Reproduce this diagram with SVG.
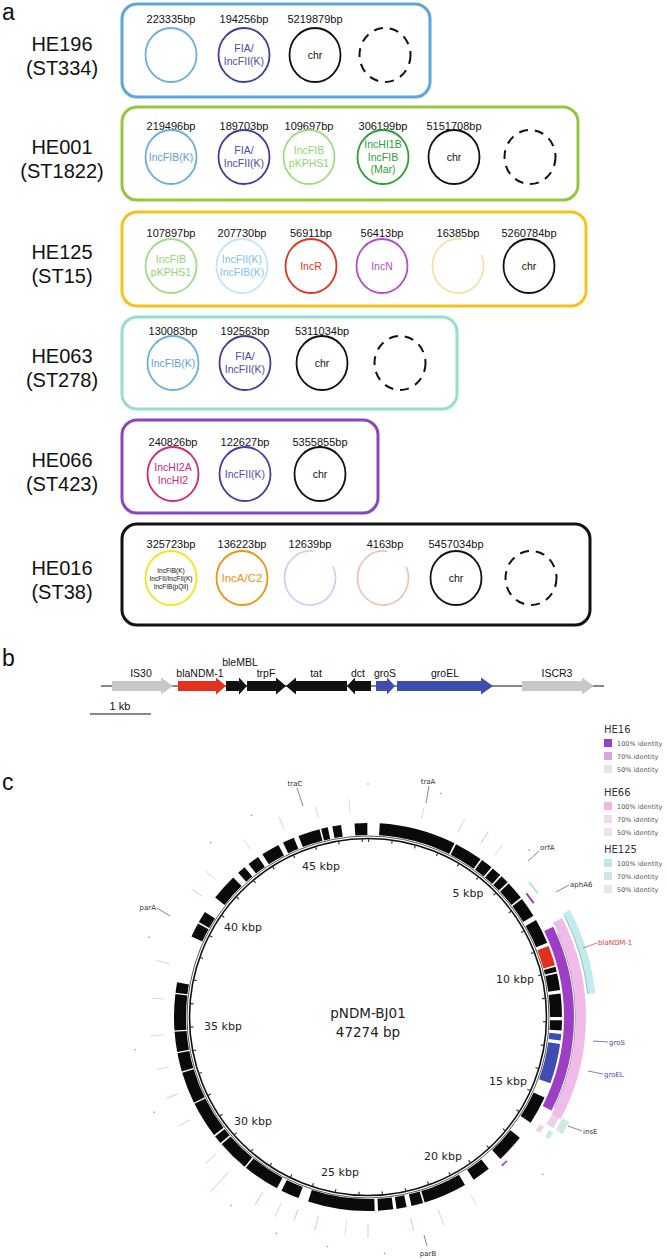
<svg xmlns="http://www.w3.org/2000/svg" width="668" height="1259" viewBox="0 0 668 1259">
<style>
.pl{font-family:"Liberation Sans",Arial,sans-serif;font-size:23px;fill:#111}
.rl{font-family:"Liberation Sans",Arial,sans-serif;font-size:20px;fill:#111;text-anchor:middle}
.bp{font-family:"Liberation Sans",Arial,sans-serif;font-size:11px;fill:#111;text-anchor:middle}
.ct{font-family:"Liberation Sans",Arial,sans-serif;font-size:10.5px;text-anchor:middle}
.sm{font-family:"Liberation Sans",Arial,sans-serif;font-size:6.5px;text-anchor:middle;fill:#111}
.box{fill:none;stroke-width:3}
.pc{fill:none;stroke-width:1.8}
.dash{fill:none;stroke:#111;stroke-width:2;stroke-dasharray:9 7}
.gl{font-family:"Liberation Sans",Arial,sans-serif;font-size:10.5px;text-anchor:middle;fill:#111}
.kb{font-family:"DejaVu Sans",sans-serif;font-size:11px;text-anchor:middle;fill:#222}
.gn{font-family:"DejaVu Sans",sans-serif;font-size:7px;fill:#333}
.lg{font-family:"DejaVu Sans",sans-serif;font-size:6.5px;fill:#555}
.lt{font-family:"DejaVu Sans",sans-serif;font-size:10px;fill:#333}
.ld{stroke:#555;stroke-width:0.7;fill:none}
.gc{stroke:#d2d2d2;stroke-width:0.8}
.gp{stroke:#e2b0e4;stroke-width:0.8}
.dot{fill:#999}
</style>

<text class="pl" x="2" y="20">a</text>
<text class="pl" x="2" y="666">b</text>
<text class="pl" x="2" y="790">c</text>

<!-- Panel a -->
<g id="HE196">
<rect class="box" x="122" y="4" width="308" height="93" rx="15" stroke="#5aa7d8"/>
<text class="rl" x="62" y="51">HE196</text><text class="rl" x="62" y="75">(ST334)</text>
<text class="bp" x="171" y="23">223335bp</text><ellipse class="pc" cx="171" cy="55" rx="25.5" ry="27" stroke="#6ab0df"/>
<text class="bp" x="244" y="23">194256bp</text><ellipse class="pc" cx="244" cy="55" rx="25.5" ry="27" stroke="#3d3f9f"/>
<text class="ct" x="244" y="52.2" fill="#4a4aa6">FIA/</text><text class="ct" x="244" y="64.7" fill="#4a4aa6">IncFII(K)</text>
<text class="bp" x="315" y="23">5219879bp</text><ellipse class="pc" cx="315" cy="55" rx="25.5" ry="27" stroke="#111"/>
<text class="ct" x="315" y="58.5" fill="#111">chr</text>
<ellipse class="dash" cx="385" cy="55" rx="25.5" ry="27"/>
</g>

<g id="HE001">
<rect class="box" x="122" y="107" width="456" height="93" rx="15" stroke="#93c83e"/>
<text class="rl" x="62" y="154">HE001</text><text class="rl" x="62" y="178">(ST1822)</text>
<text class="bp" x="171" y="130">219496bp</text><ellipse class="pc" cx="171" cy="157" rx="25.5" ry="27" stroke="#6ab0df"/>
<text class="ct" x="171" y="160.5" fill="#5b9fd6">IncFIB(K)</text>
<text class="bp" x="244" y="130">189703bp</text><ellipse class="pc" cx="244" cy="157" rx="25.5" ry="27" stroke="#3d3f9f"/>
<text class="ct" x="244" y="154.2" fill="#4a4aa6">FIA/</text><text class="ct" x="244" y="166.7" fill="#4a4aa6">IncFII(K)</text>
<text class="bp" x="309" y="130">109697bp</text><ellipse class="pc" cx="309" cy="157" rx="25.5" ry="27" stroke="#a3dc84"/>
<text class="ct" x="309" y="154.2" fill="#93d470">IncFIB</text><text class="ct" x="309" y="166.7" fill="#93d470">pKPHS1</text>
<text class="bp" x="383" y="130">306199bp</text><ellipse class="pc" cx="383" cy="157" rx="25.5" ry="27" stroke="#2e9e3a"/>
<text class="ct" x="383" y="148" fill="#2e9e3a">IncHI1B</text><text class="ct" x="383" y="160.5" fill="#2e9e3a">IncFIB</text><text class="ct" x="383" y="173" fill="#2e9e3a">(Mar)</text>
<text class="bp" x="454" y="130">5151708bp</text><ellipse class="pc" cx="454" cy="157" rx="25.5" ry="27" stroke="#111"/>
<text class="ct" x="454" y="160.5" fill="#111">chr</text>
<ellipse class="dash" cx="530" cy="157" rx="25.5" ry="27"/>
</g>

<g id="HE125">
<rect class="box" x="122" y="212" width="464" height="94" rx="15" stroke="#f6c21c"/>
<text class="rl" x="62" y="259">HE125</text><text class="rl" x="62" y="283">(ST15)</text>
<text class="bp" x="171" y="237">107897bp</text><ellipse class="pc" cx="171" cy="266" rx="25.5" ry="27" stroke="#a3dc84"/>
<text class="ct" x="171" y="263.2" fill="#93d470">IncFIB</text><text class="ct" x="171" y="275.7" fill="#93d470">pKPHS1</text>
<text class="bp" x="242" y="237">207730bp</text><ellipse class="pc" cx="242" cy="266" rx="25.5" ry="27" stroke="#c4e6f4"/>
<text class="ct" x="242" y="263.2" fill="#7cc4e6">IncFII(K)</text><text class="ct" x="242" y="275.7" fill="#7cc4e6">IncFIB(K)</text>
<text class="bp" x="311" y="237">56911bp</text><ellipse class="pc" cx="311" cy="266" rx="25.5" ry="27" stroke="#e2341e"/>
<text class="ct" x="311" y="269.5" fill="#e2341e">IncR</text>
<text class="bp" x="382" y="237">56413bp</text><ellipse class="pc" cx="382" cy="266" rx="25.5" ry="27" stroke="#b24fc9"/>
<text class="ct" x="382" y="269.5" fill="#b24fc9">IncN</text>
<text class="bp" x="458" y="237">16385bp</text><path class="pc" d="M481.1 254.6 A25.5 27 0 1 1 462.4 239.4" stroke="#f1e3a6"/>
<text class="bp" x="529" y="237">5260784bp</text><ellipse class="pc" cx="529" cy="266" rx="25.5" ry="27" stroke="#111"/>
<text class="ct" x="529" y="269.5" fill="#111">chr</text>
</g>

<g id="HE063">
<rect class="box" x="122" y="317" width="335" height="92" rx="15" stroke="#93e0cc"/>
<text class="rl" x="62" y="363">HE063</text><text class="rl" x="62" y="387">(ST278)</text>
<text class="bp" x="173" y="335">130083bp</text><ellipse class="pc" cx="173" cy="363" rx="25.5" ry="27" stroke="#6ab0df"/>
<text class="ct" x="173" y="366.5" fill="#5b9fd6">IncFIB(K)</text>
<text class="bp" x="245" y="335">192563bp</text><ellipse class="pc" cx="245" cy="363" rx="25.5" ry="27" stroke="#3d3f9f"/>
<text class="ct" x="245" y="360.2" fill="#4a4aa6">FIA/</text><text class="ct" x="245" y="372.7" fill="#4a4aa6">IncFII(K)</text>
<text class="bp" x="322" y="335">5311034bp</text><ellipse class="pc" cx="322" cy="363" rx="25.5" ry="27" stroke="#111"/>
<text class="ct" x="322" y="366.5" fill="#111">chr</text>
<ellipse class="dash" cx="400" cy="363" rx="25.5" ry="27"/>
</g>

<g id="HE066">
<rect class="box" x="122" y="420" width="256" height="93" rx="15" stroke="#8b46be"/>
<text class="rl" x="62" y="467">HE066</text><text class="rl" x="62" y="491">(ST423)</text>
<text class="bp" x="173" y="446">240826bp</text><ellipse class="pc" cx="173" cy="474" rx="25.5" ry="27" stroke="#d4267c"/>
<text class="ct" x="173" y="471.2" fill="#d4267c">IncHI2A</text><text class="ct" x="173" y="483.7" fill="#d4267c">IncHI2</text>
<text class="bp" x="245" y="446">122627bp</text><ellipse class="pc" cx="245" cy="474" rx="25.5" ry="27" stroke="#4b3aa6"/>
<text class="ct" x="245" y="477.5" fill="#5a48b0">IncFII(K)</text>
<text class="bp" x="320" y="446">5355855bp</text><ellipse class="pc" cx="320" cy="474" rx="25.5" ry="27" stroke="#111"/>
<text class="ct" x="320" y="477.5" fill="#111">chr</text>
</g>

<g id="HE016">
<rect class="box" x="122" y="524" width="468" height="101" rx="15" stroke="#111"/>
<text class="rl" x="62" y="575">HE016</text><text class="rl" x="62" y="599">(ST38)</text>
<text class="bp" x="171" y="548">325723bp</text><ellipse class="pc" cx="171" cy="578" rx="25.5" ry="27" stroke="#f4e41c"/>
<text class="sm" x="171" y="572.5">IncFIB(K)</text><text class="sm" x="171" y="580.5">IncFII/IncFII(K)</text><text class="sm" x="171" y="588.5">IncFIB(pQil)</text>
<text class="bp" x="242" y="548">136223bp</text><ellipse class="pc" cx="242" cy="578" rx="25.5" ry="27" stroke="#f0940f"/>
<text class="ct" x="242" y="582" fill="#f0940f" style="font-size:11.5px">IncA/C2</text>
<text class="bp" x="310" y="548">12639bp</text><path class="pc" d="M333.1 566.6 A25.5 27 0 1 1 314.4 551.4" stroke="#dcc8f0"/>
<text class="bp" x="385" y="548">4163bp</text><path class="pc" d="M406.1 566.6 A25.5 27 0 1 1 387.4 551.4" stroke="#ecc6b2"/>
<text class="bp" x="456" y="548">5457034bp</text><ellipse class="pc" cx="456" cy="578" rx="25.5" ry="27" stroke="#111"/>
<text class="ct" x="456" y="581.5" fill="#111">chr</text>
<ellipse class="dash" cx="531" cy="578" rx="25.5" ry="27"/>
</g>

<!-- Panel b -->
<g id="panel-b">
<line x1="101" y1="686" x2="604" y2="686" stroke="#111" stroke-width="1"/>
<g id="IS30"><polygon points="112,681 161,681 161,677.5 173,686 161,694.5 161,691 112,691" fill="#c8c8c8"/><text class="gl" x="141" y="677">IS30</text></g>
<g id="blaNDM"><polygon points="178,681 216,681 216,677.5 226,686 216,694.5 216,691 178,691" fill="#e2311d"/><text class="gl" x="200" y="677">blaNDM-1</text></g>
<g id="bleMBL"><polygon points="226,681 239,681 239,677.5 247,686 239,694.5 239,691 226,691" fill="#111"/><text class="gl" x="240" y="666">bleMBL</text></g>
<g id="trpF"><polygon points="247,681 276,681 276,677.5 286,686 276,694.5 276,691 247,691" fill="#111"/><text class="gl" x="266" y="677">trpF</text></g>
<g id="tat"><polygon points="347,681 296,681 296,677.5 286,686 296,694.5 296,691 347,691" fill="#111"/><text class="gl" x="316" y="677">tat</text></g>
<g id="dct"><polygon points="371,681 355,681 355,677.5 347,686 355,694.5 355,691 371,691" fill="#111"/><text class="gl" x="358" y="677">dct</text></g>
<g id="groS"><polygon points="376,681 387,681 387,677.5 395,686 387,694.5 387,691 376,691" fill="#3f4cb0"/><text class="gl" x="385" y="677">groS</text></g>
<g id="groEL"><polygon points="397,681 481,681 481,677.5 493,686 481,694.5 481,691 397,691" fill="#3f4cb0"/><text class="gl" x="445" y="677">groEL</text></g>
<g id="ISCR3"><polygon points="522,681 582,681 582,677.5 594,686 582,694.5 582,691 522,691" fill="#c8c8c8"/><text class="gl" x="557" y="677">ISCR3</text></g>
<g id="scalebar"><line x1="90" y1="714" x2="151" y2="714" stroke="#111" stroke-width="1.2"/><text class="gl" x="120" y="710" style="font-size:11px">1 kb</text></g>
</g>

<!-- Panel c legend -->
<g id="legend">
<text class="lt" x="604" y="733">HE16</text>
<rect x="604" y="739" width="8" height="8" fill="#9d3fc4"/><text class="lg" x="617" y="745.5">100% identity</text>
<rect x="604" y="752" width="8" height="8" fill="#d9a2e2"/><text class="lg" x="617" y="758.5">70% identity</text>
<rect x="604" y="765" width="8" height="8" fill="#e4e4e4"/><text class="lg" x="617" y="771.5">50% identity</text>
<text class="lt" x="604" y="796">HE66</text>
<rect x="604" y="802" width="8" height="8" fill="#efb8e6"/><text class="lg" x="617" y="808.5">100% identity</text>
<rect x="604" y="815" width="8" height="8" fill="#f2d8f0"/><text class="lg" x="617" y="821.5">70% identity</text>
<rect x="604" y="828" width="8" height="8" fill="#e6e6e6"/><text class="lg" x="617" y="834.5">50% identity</text>
<text class="lt" x="604" y="853">HE125</text>
<rect x="604" y="859" width="8" height="8" fill="#b8ecec"/><text class="lg" x="617" y="865.5">100% identity</text>
<rect x="604" y="872" width="8" height="8" fill="#cfe6e4"/><text class="lg" x="617" y="878.5">70% identity</text>
<rect x="604" y="885" width="8" height="8" fill="#e6e6e6"/><text class="lg" x="617" y="891.5">50% identity</text>
</g>

<!-- Panel c circular map -->
<g id="plasmid">
<g id="gc-marks">
<line class="gc" x1="368" y1="812" x2="368" y2="798" transform="rotate(355 368 1017)"/>
<line class="gc" x1="368" y1="812" x2="368" y2="800" transform="rotate(15 368 1017)"/>
<line class="gc" x1="368" y1="812" x2="368" y2="796" transform="rotate(26 368 1017)"/>
<line class="gp" x1="368" y1="810" x2="368" y2="796" transform="rotate(33 368 1017)"/>
<line class="gc" x1="368" y1="812" x2="368" y2="798" transform="rotate(38 368 1017)"/>
<line class="gc" x1="368" y1="812" x2="368" y2="800" transform="rotate(150 368 1017)"/>
<line class="gc" x1="368" y1="812" x2="368" y2="795" transform="rotate(160 368 1017)"/>
<line class="gp" x1="368" y1="812" x2="368" y2="798" transform="rotate(168 368 1017)"/>
<line class="gp" x1="368" y1="810" x2="368" y2="796" transform="rotate(180 368 1017)"/>
<line class="gc" x1="368" y1="812" x2="368" y2="798" transform="rotate(186 368 1017)"/>
<line class="gp" x1="368" y1="812" x2="368" y2="797" transform="rotate(194 368 1017)"/>
<line class="gp" x1="368" y1="812" x2="368" y2="800" transform="rotate(200 368 1017)"/>
<line class="gc" x1="368" y1="812" x2="368" y2="796" transform="rotate(205 368 1017)"/>
<line class="gp" x1="368" y1="812" x2="368" y2="798" transform="rotate(211 368 1017)"/>
<line class="gp" x1="368" y1="808" x2="368" y2="782" transform="rotate(222 368 1017)"/>
<line class="gp" x1="368" y1="812" x2="368" y2="798" transform="rotate(228 368 1017)"/>
<line class="gc" x1="368" y1="812" x2="368" y2="798" transform="rotate(240 368 1017)"/>
<line class="gp" x1="368" y1="812" x2="368" y2="800" transform="rotate(248 368 1017)"/>
<line class="gc" x1="368" y1="812" x2="368" y2="800" transform="rotate(256 368 1017)"/>
<line class="gc" x1="368" y1="812" x2="368" y2="798" transform="rotate(265 368 1017)"/>
<line class="gc" x1="368" y1="812" x2="368" y2="800" transform="rotate(275 368 1017)"/>
<line class="gc" x1="368" y1="812" x2="368" y2="798" transform="rotate(285 368 1017)"/>
<line class="gp" x1="368" y1="812" x2="368" y2="800" transform="rotate(306 368 1017)"/>
<line class="gc" x1="368" y1="812" x2="368" y2="798" transform="rotate(312 368 1017)"/>
<line class="gc" x1="368" y1="812" x2="368" y2="800" transform="rotate(325 368 1017)"/>
<line class="gc" x1="368" y1="812" x2="368" y2="797" transform="rotate(336 368 1017)"/>
<line class="gc" x1="368" y1="812" x2="368" y2="800" transform="rotate(346 368 1017)"/>
<circle class="dot" cx="368" cy="784" r="0.8" transform="rotate(0 368 1017)"/>
<circle class="dot" cx="368" cy="782" r="0.8" transform="rotate(18 368 1017)"/>
<circle class="dot" cx="368" cy="785" r="0.8" transform="rotate(44 368 1017)"/>
<circle class="dot" cx="368" cy="782" r="0.8" transform="rotate(132 368 1017)"/>
<circle class="dot" cx="368" cy="780" r="0.8" transform="rotate(176 368 1017)"/>
<circle class="dot" cx="368" cy="784" r="0.8" transform="rotate(190 368 1017)"/>
<circle class="dot" cx="368" cy="782" r="0.8" transform="rotate(203 368 1017)"/>
<circle class="dot" cx="368" cy="784" r="0.8" transform="rotate(216 368 1017)"/>
<circle class="dot" cx="368" cy="783" r="0.8" transform="rotate(246 368 1017)"/>
<circle class="dot" cx="368" cy="782" r="0.8" transform="rotate(262 368 1017)"/>
<circle class="dot" cx="368" cy="784" r="0.8" transform="rotate(290 368 1017)"/>
<circle class="dot" cx="368" cy="782" r="0.8" transform="rotate(318 368 1017)"/>
<circle class="dot" cx="368" cy="784" r="0.8" transform="rotate(330 368 1017)"/>
</g>
<!-- identity rings -->
<circle cx="368" cy="1017" r="213" fill="none" stroke="#f0bbe9" stroke-width="10" pathLength="360" stroke-dasharray="0 63 55 242" transform="rotate(-90 368 1017)"/>
<circle cx="368" cy="1017" r="207.5" fill="none" stroke="#9a9a9a" stroke-width="0.9" pathLength="360" stroke-dasharray="0 66 50 244" transform="rotate(-90 368 1017)"/>
<circle cx="368" cy="1017" r="224.5" fill="none" stroke="#c2ecec" stroke-width="8" pathLength="360" stroke-dasharray="0 62 22 276" transform="rotate(-90 368 1017)"/>
<circle cx="368" cy="1017" r="221" fill="none" stroke="#8fbcbc" stroke-width="0.9" pathLength="360" stroke-dasharray="0 63 21 276" transform="rotate(-90 368 1017)"/>
<circle cx="368" cy="1017" r="201" fill="none" stroke="#9d3fc4" stroke-width="10" pathLength="360" stroke-dasharray="0 64 53 243" transform="rotate(-90 368 1017)"/>
<circle cx="368" cy="1017" r="201" fill="none" stroke="#9d3fc4" stroke-width="2" pathLength="360" stroke-dasharray="0 52 3.5 304.5" transform="rotate(-90 368 1017)"/>
<circle cx="368" cy="1017" r="210" fill="none" stroke="#b8e4e4" stroke-width="2" pathLength="360" stroke-dasharray="0 50 4 306" transform="rotate(-90 368 1017)"/>
<circle cx="368" cy="1017" r="200" fill="none" stroke="#a44fcc" stroke-width="2" pathLength="360" stroke-dasharray="0 136 2 222" transform="rotate(-90 368 1017)"/>
<circle cx="368" cy="1017" r="212" fill="none" stroke="#ead2ec" stroke-width="8" pathLength="360" stroke-dasharray="0 118 3 239" transform="rotate(-90 368 1017)"/>
<circle cx="368" cy="1017" r="223" fill="none" stroke="#d2e8e6" stroke-width="8" pathLength="360" stroke-dasharray="0 117.5 3.5 239" transform="rotate(-90 368 1017)"/>
<circle cx="368" cy="1017" r="205" fill="none" stroke="#ead2ec" stroke-width="5" pathLength="360" stroke-dasharray="0 122 2 236" transform="rotate(-90 368 1017)"/>
<circle cx="368" cy="1017" r="216" fill="none" stroke="#cfe8e6" stroke-width="5" pathLength="360" stroke-dasharray="0 122 2 236" transform="rotate(-90 368 1017)"/>
<!-- backbone -->
<circle cx="368" cy="1017" r="178.5" fill="none" stroke="#111" stroke-width="1.6"/>
<circle cx="368" cy="1017" r="181" fill="none" stroke="#111" stroke-width="0.7"/>
<circle cx="368" cy="1017" r="176.5" fill="none" stroke="#333" stroke-width="3" pathLength="47.274" stroke-dasharray="0.05 0.95" transform="rotate(-90 368 1017)"/>
<!-- feature blocks -->
<circle cx="368" cy="1017" r="188" fill="none" stroke="#0a0a0a" stroke-width="12" pathLength="360" stroke-dasharray="0 3.5 23 0.5 8.5 0.5 3.5 0.5 3 0.5 2.5 0.5 5.5 0.5 6 1.5 7.5 7.5 1.5 0.5 5 1 7 1 3 20.5 8.5 5.5 8.5 4.5 5.5 3 13 0.5 3.5 1.5 3 1 4.5 1 20 3 5.5 1.5 11 0.5 9.5 0.5 2.5 0.5 10.9 0.4 9.5 0.4 5.5 0.4 6 0.4 10.8 0.4 3.1 14.2 4.3 0.5 3.5 5.2 8 2 2.5 1.5 3.5 1.5 5.5 1.5 3.5 1.5 6.5 0.5 2 1.4 2.6 4 3.8 0.2" transform="rotate(-90 368 1017)"/>
<circle cx="368" cy="1017" r="188" fill="none" stroke="#e0301e" stroke-width="12" pathLength="360" stroke-dasharray="0 68.5 6 285.5" transform="rotate(-90 368 1017)"/>
<circle cx="368" cy="1017" r="188" fill="none" stroke="#3f4cb0" stroke-width="12" pathLength="360" stroke-dasharray="0 95 2 1 12 250" transform="rotate(-90 368 1017)"/>
<!-- kbp labels -->
<text class="kb" x="468" y="897">5 kbp</text>
<text class="kb" x="515" y="983">10 kbp</text>
<text class="kb" x="508" y="1085">15 kbp</text>
<text class="kb" x="443" y="1160">20 kbp</text>
<text class="kb" x="340" y="1176">25 kbp</text>
<text class="kb" x="253" y="1125">30 kbp</text>
<text class="kb" x="223" y="1030">35 kbp</text>
<text class="kb" x="243" y="931">40 kbp</text>
<text class="kb" x="321" y="870">45 kbp</text>
<text x="368" y="1018" style="font-family:'DejaVu Sans',sans-serif;font-size:13.5px;fill:#222;text-anchor:middle">pNDM-BJ01</text>
<text x="368" y="1037" style="font-family:'DejaVu Sans',sans-serif;font-size:13.5px;fill:#222;text-anchor:middle">47274 bp</text>
</g>

<g id="connectors">
<line class="ld" x1="297" y1="788" x2="303" y2="806"/>
<line class="ld" x1="429" y1="786" x2="426" y2="803"/>
<line class="ld" x1="539" y1="851" x2="528" y2="861"/>
<line class="ld" x1="569" y1="885" x2="556" y2="892"/>
<line x1="597" y1="943" x2="583" y2="948" stroke="#d83a3a" stroke-width="0.7"/>
<line x1="608" y1="1042" x2="593" y2="1041" stroke="#4a4ab4" stroke-width="0.7"/>
<line x1="603" y1="1074" x2="588" y2="1071" stroke="#4a4ab4" stroke-width="0.7"/>
<line class="ld" x1="582" y1="1131" x2="568" y2="1126"/>
<line class="ld" x1="157" y1="908" x2="170" y2="916"/>
<line class="ld" x1="427" y1="1246" x2="424" y2="1235"/>
</g>

<g id="gene-labels">
<text class="gn" x="295" y="786" text-anchor="middle">traC</text>
<text class="gn" x="428" y="784" text-anchor="middle">traA</text>
<text class="gn" x="540" y="850">orfA</text>
<text class="gn" x="570" y="887">aphA6</text>
<text class="gn" x="598" y="945" style="fill:#d83a3a">blaNDM-1</text>
<text class="gn" x="609" y="1045" style="fill:#4a4ab4">groS</text>
<text class="gn" x="604" y="1077" style="fill:#4a4ab4">groEL</text>
<text class="gn" x="583" y="1134">insE</text>
<text class="gn" x="156" y="910" text-anchor="end">parA</text>
<text class="gn" x="428" y="1256" text-anchor="middle">parB</text>
</g>
</svg>
